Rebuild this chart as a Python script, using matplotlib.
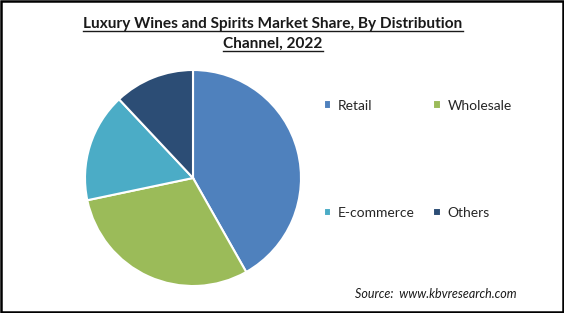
import matplotlib
matplotlib.use("Agg")
import matplotlib.pyplot as plt
from matplotlib.lines import Line2D
from matplotlib.patches import Rectangle

# market share by distribution channel
channels = ["Retail", "Wholesale", "E-commerce", "Others"]
shares = [41.8, 29.9, 16.3, 12.0]
colors = ["#4F81BD", "#9BBB59", "#4BACC6", "#2C4D75"]

title_lines = ["Luxury Wines and Spirits Market Share, By Distribution", "Channel, 2022"]
source_text = "Source:  www.kbvresearch.com"

plt.rcParams['font.family'] = ['Lato', 'DejaVu Sans']

W, H = 564, 313
fig = plt.figure(figsize=(W / 100, H / 100), dpi=100)

# pie: centre (193, 178) px, radius 108 px
cx, cy, r = 193, 178, 108
ax = fig.add_axes([(cx - r) / W, (H - cy - r) / H, 2 * r / W, 2 * r / H])
wedges, _ = ax.pie(shares, colors=colors, startangle=90, counterclock=False,
                   wedgeprops=dict(edgecolor="white", linewidth=1.5))
ax.set_xlim(-1, 1)
ax.set_ylim(-1, 1)
ax.set_aspect("equal")

# legend in two columns (row-wise order), wide row gap
order = [0, 2, 1, 3]
leg = fig.legend([wedges[i] for i in order], [channels[i] for i in order],
                 ncol=2, loc="upper left",
                 bbox_to_anchor=(311 / W, 1 - 87 / H), frameon=False,
                 fontsize=10, handlelength=0.55, handleheight=0.55,
                 handletextpad=0.5, columnspacing=1.3, labelspacing=6.85,
                 labelcolor="#262626")

# title with underline
fig.canvas.draw()
renderer = fig.canvas.get_renderer()
ys = [28, 48]
for line, y in zip(title_lines, ys):
    t = fig.text(273 / W, 1 - y / H, line, ha="center", va="baseline",
                 fontsize=11.1, fontweight="bold", color="#1a1a1a")
    bb = t.get_window_extent(renderer)
    fig.add_artist(Line2D([bb.x0 / W, bb.x1 / W], [1 - (y + 3) / H] * 2,
                          color="#1a1a1a", linewidth=1.0))

fig.text(517 / W, 1 - 298 / H, source_text, ha="right", va="baseline",
         fontsize=9, style="italic", color="#1a1a1a")

# border round the whole picture
fig.add_artist(Rectangle((0.5 / W, 1.5 / H), (W - 2) / W, (H - 2.5) / H,
                         transform=fig.transFigure, fill=False,
                         edgecolor="black", linewidth=1.8))

fig.savefig("out.png", dpi=100)
